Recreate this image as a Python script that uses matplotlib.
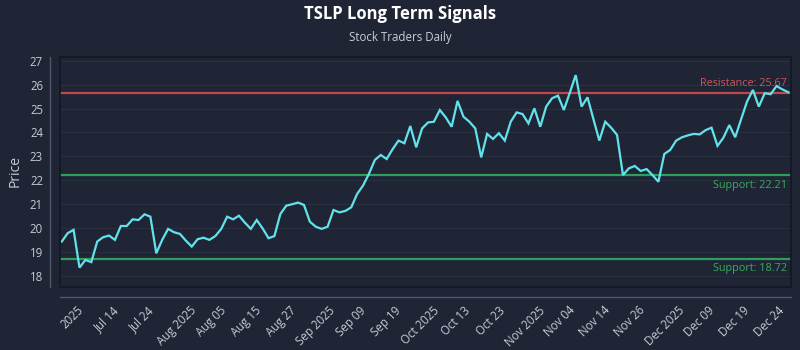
import numpy as np
import matplotlib
matplotlib.use("Agg")
import matplotlib.pyplot as plt
import matplotlib.transforms as mtransforms
from matplotlib.patches import Rectangle

# ---- data ----
title = "TSLP Long Term Signals"
subtitle = "Stock Traders Daily"
y_label = "Price"

prices = [
    19.44, 19.79, 19.93, 18.35, 18.67, 18.58, 19.44, 19.62, 19.69, 19.51,
    20.09, 20.09, 20.37, 20.34, 20.58, 20.48, 18.95, 19.51, 19.97, 19.83,
    19.76, 19.48, 19.23, 19.54, 19.60, 19.51, 19.67, 19.97, 20.48, 20.37,
    20.52, 20.23, 19.97, 20.34, 19.99, 19.58, 19.67, 20.59,
    20.94, 21.00, 21.07, 20.97, 20.27, 20.06, 19.97, 20.06, 20.76, 20.66,
    20.72, 20.87, 21.43, 21.78, 22.27, 22.85, 23.06, 22.89, 23.30, 23.66,
    23.55, 24.27, 23.38, 24.17, 24.42, 24.45, 24.94, 24.63, 24.24, 25.32,
    24.66, 24.45, 24.17, 22.96, 23.94, 23.73, 23.97, 23.66, 24.45, 24.84,
    24.77, 24.38, 25.01, 24.24,
    25.08, 25.43, 25.54, 24.94, 25.66, 26.40, 25.08, 25.47, 24.56, 23.66,
    24.45, 24.20, 23.90, 22.22, 22.50, 22.60, 22.39, 22.47, 22.22, 21.94,
    23.10, 23.27, 23.66, 23.80, 23.88, 23.94, 23.92, 24.10, 24.20, 23.44,
    23.78, 24.31, 23.80, 24.55, 25.29, 25.78, 25.08, 25.64, 25.60, 25.94,
    25.80, 25.68,
]

resistance_levels = [25.67]
support_levels = [22.21, 18.72]

x_tick_labels = [
    "2025", "Jul 14", "Jul 24", "Aug 2025", "Aug 05", "Aug 15", "Aug 27",
    "Sep 2025", "Sep 09", "Sep 19", "Oct 2025", "Oct 13", "Oct 23",
    "Nov 2025", "Nov 04", "Nov 14", "Nov 26", "Dec 2025", "Dec 09",
    "Dec 19", "Dec 24",
]
y_ticks = [18, 19, 20, 21, 22, 23, 24, 25, 26, 27]

# ---- style ----
BG = "#1f2535"
FRAME = "#121722"
GRID = "#283041"
SPINE = "#505869"
TICK = "#c5cbd6"
LINE = "#62e2ea"
RED = "#c0474c"
RED_T = "#c9565b"
GREEN = "#2f9e5a"
GREEN_T = "#3aaa60"
FONT = ["Open Sans", "DejaVu Sans"]

plt.rcParams["font.family"] = FONT

fig = plt.figure(figsize=(8, 3.5), dpi=100, facecolor=BG)
ax = fig.add_axes([0.075, 0.18, 0.9134, 0.6571])
ax.set_facecolor(BG)

x = np.arange(len(prices))
ax.plot(x, prices, color=LINE, lw=1.6, zorder=4, solid_joinstyle="miter")

blend = mtransforms.blended_transform_factory(ax.transAxes, ax.transData)
for lvl in resistance_levels:
    ax.axhline(lvl, color=RED, lw=1.6, zorder=3)
    ax.annotate(f"Resistance: {lvl:.2f}", xy=(1, lvl), xycoords=blend,
                xytext=(-2.7, 6.7), textcoords="offset points",
                ha="right", va="center", color=RED_T, fontsize=7.8)
for lvl in support_levels:
    ax.axhline(lvl, color=GREEN, lw=1.6, zorder=3)
    ax.annotate(f"Support: {lvl:.2f}", xy=(1, lvl), xycoords=blend,
                xytext=(-2.7, -7.2), textcoords="offset points",
                ha="right", va="center", color=GREEN_T, fontsize=7.8)

ax.set_xlim(-0.3, len(prices) - 1 + 0.4)
ax.set_ylim(17.54, 27.155)

ax.set_yticks(y_ticks)
ax.set_yticklabels([str(t) for t in y_ticks])
ax.yaxis.grid(True, color=GRID, lw=0.8)
ax.set_axisbelow(True)

tick_pos = np.linspace(1.7, len(prices) - 4.2, len(x_tick_labels))
ax.set_xticks(tick_pos)
ax.set_xticklabels(x_tick_labels)

ax.tick_params(axis="both", length=0, colors=TICK, labelsize=8.3)
ax.tick_params(axis="y", pad=5)
ax.tick_params(axis="x", pad=5, labelrotation=45)
for lab in ax.get_xticklabels():
    lab.set_horizontalalignment("right")
    lab.set_rotation_mode("anchor")

for s in ["top", "right"]:
    ax.spines[s].set_visible(False)
ax.spines["left"].set_position(("outward", 7.2))
ax.spines["bottom"].set_position(("outward", 7.2))
ax.spines["left"].set_color(SPINE)
ax.spines["bottom"].set_color(SPINE)
ax.spines["left"].set_linewidth(1)
ax.spines["bottom"].set_linewidth(1)

ax.add_patch(Rectangle((0, 0), 1, 1, transform=ax.transAxes, fill=False,
                       edgecolor=FRAME, lw=1.2, zorder=5, clip_on=False))

fig.text(0.5, 1 - 14 / 350, title, ha="center", va="center",
         color="white", fontsize=12, fontweight="bold")
fig.text(0.5, 1 - 37 / 350, subtitle, ha="center", va="center",
         color="#c9ced8", fontsize=8.3)
fig.text(15 / 800, 0.512, y_label, rotation=90, ha="center", va="center",
         color=TICK, fontsize=10)

fig.savefig("out.png", dpi=100, facecolor=BG)
